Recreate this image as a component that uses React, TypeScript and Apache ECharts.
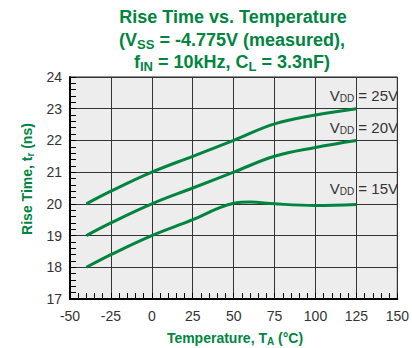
import React, { useEffect, useRef } from "react";
import * as echarts from "echarts";

const temps25 = [-40, -25, 0, 25, 50, 75, 100, 125];
const vdd25 = [20.0, 20.4, 21.0, 21.5, 22.0, 22.52, 22.8, 23.0];
const temps20 = [-40, -25, 0, 25, 50, 75, 100, 125];
const vdd20 = [19.0, 19.4, 20.0, 20.5, 21.0, 21.5, 21.78, 22.0];
const temps15 = [-40, -25, 0, 25, 40, 50, 60, 75, 100, 125];
const vdd15 = [18.0, 18.4, 19.0, 19.5, 19.85, 20.02, 20.06, 20.0, 19.95, 19.98];
const seriesNames = ["VDD = 25V", "VDD = 20V", "VDD = 15V"];
const xTicks = [-50, 150, 25];
const yTicks = [17, 24, 1];

const GREEN = "#00853f";
const FONT = "Liberation Sans";

export default function App() {
  const ref = useRef<HTMLDivElement>(null);
  useEffect(() => {
    const chart = echarts.init(ref.current!, null, { renderer: "svg" });
    const pair = (xs: number[], ys: number[]) => xs.map((x, i) => [x, ys[i]]);
    const labelRich = {
      v: { fontSize: 15, fill: "#333", fontFamily: FONT },
      s: { fontSize: 10, fill: "#333", fontFamily: FONT, padding: [7, 0, 0, 0] },
    };
    const titleRich = {
      t: { fontSize: 18, fontWeight: "bold", fill: GREEN, fontFamily: FONT },
      s: { fontSize: 13, fontWeight: "bold", fill: GREEN, fontFamily: FONT, padding: [9, 0, 0, 0] },
    };
    const axisNameRich = {
      t: { fontSize: 14, fontWeight: "bold", fill: GREEN, fontFamily: FONT },
      s: { fontSize: 10, fontWeight: "bold", fill: GREEN, fontFamily: FONT, padding: [7, 0, 0, 0] },
    };
    const mk = (name: string, data: number[][]) => ({
      name,
      type: "line",
      data,
      smooth: 0.4,
      showSymbol: false,
      lineStyle: { color: GREEN, width: 3 },
    });
    const tick = { show: true, inside: true, length: 6, lineStyle: { color: "#000", width: 1 } };
    chart.setOption({
      animation: false,
      grid: {
        left: 70,
        right: 11,
        top: 77,
        bottom: 49,
        show: true,
        backgroundColor: "#ededed",
        borderColor: "#222",
        borderWidth: 1,
      },
      xAxis: {
        type: "value",
        min: xTicks[0],
        max: xTicks[1],
        interval: xTicks[2],
        axisLine: { show: true, onZero: false, lineStyle: { color: "#000", width: 2 } },
        axisTick: tick,
        minorTick: { show: true, splitNumber: 5, length: 6, lineStyle: { color: "#000", width: 1 } },
        splitLine: { show: true, lineStyle: { color: "#333", width: 1 } },
        axisLabel: { color: "#333", fontSize: 14, fontFamily: FONT, margin: 10 },
      },
      yAxis: {
        type: "value",
        min: yTicks[0],
        max: yTicks[1],
        interval: yTicks[2],
        axisLine: { show: true, onZero: false, lineStyle: { color: "#000", width: 2 } },
        axisTick: tick,
        minorTick: { show: true, splitNumber: 5, length: 6, lineStyle: { color: "#000", width: 1 } },
        splitLine: { show: true, lineStyle: { color: "#333", width: 1 } },
        axisLabel: { color: "#333", fontSize: 14, fontFamily: FONT, margin: 8 },
      },
      series: [
        mk(seriesNames[0], pair(temps25, vdd25)),
        mk(seriesNames[1], pair(temps20, vdd20)),
        mk(seriesNames[2], pair(temps15, vdd15)),
      ],
      graphic: [
        {
          type: "text",
          x: 233,
          y: 17,
          style: { text: "{t|Rise Time vs. Temperature}", rich: titleRich, align: "center", verticalAlign: "middle" },
        },
        {
          type: "text",
          x: 232,
          y: 40,
          style: { text: "{t|(V}{s|SS}{t| = -4.775V (measured),}", rich: titleRich, align: "center", verticalAlign: "middle" },
        },
        {
          type: "text",
          x: 232,
          y: 62,
          style: { text: "{t|f}{s|IN}{t| = 10kHz, C}{s|L}{t| = 3.3nF)}", rich: titleRich, align: "center", verticalAlign: "middle" },
        },
        {
          type: "text",
          x: 27,
          y: 179,
          rotation: Math.PI / 2,
          style: { text: "{t|Rise Time, t}{s|r}{t| (ns)}", rich: axisNameRich, align: "center", verticalAlign: "middle" },
        },
        {
          type: "text",
          x: 235,
          y: 338,
          style: { text: "{t|Temperature, T}{s|A}{t| (°C)}", rich: axisNameRich, align: "center", verticalAlign: "middle" },
        },
        {
          type: "text",
          x: 398,
          y: 95,
          style: { text: "{v|V}{s|DD}{v| = 25V}", rich: labelRich, align: "right", verticalAlign: "middle" },
        },
        {
          type: "text",
          x: 398,
          y: 127,
          style: { text: "{v|V}{s|DD}{v| = 20V}", rich: labelRich, align: "right", verticalAlign: "middle" },
        },
        {
          type: "text",
          x: 398,
          y: 188,
          style: { text: "{v|V}{s|DD}{v| = 15V}", rich: labelRich, align: "right", verticalAlign: "middle" },
        },
      ],
    });
    return () => chart.dispose();
  }, []);
  return <div ref={ref} style={{ width: 412, height: 348, position: "absolute", left: 0, top: 0 }} />;
}
